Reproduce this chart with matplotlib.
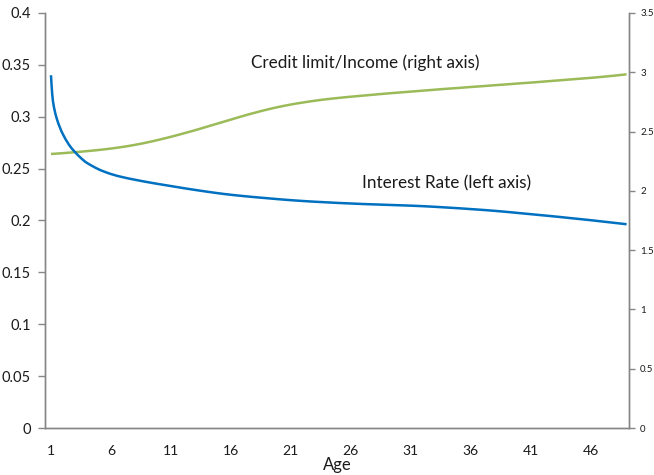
import matplotlib
matplotlib.use("Agg")
import matplotlib.pyplot as plt
from matplotlib.path import Path
from matplotlib.patches import PathPatch
from matplotlib.ticker import FixedLocator, FuncFormatter

# Interest rate by age (left axis); sampled more finely over the steep first years
rate_ages = [
    1, 1.1, 1.25, 1.5, 1.75, 2, 2.5, 3, 3.5, 4, 5, 6, 7, 8, 9, 10,
    11, 12, 13, 14, 15, 16, 17, 18, 19, 20, 21, 22, 23, 24, 25, 26, 27, 28, 29, 30,
    31, 32, 33, 34, 35, 36, 37, 38, 39, 40, 41, 42, 43, 44, 45, 46, 47, 48, 49,
]
interest_rate = [
    0.340, 0.322, 0.309, 0.2975, 0.2895, 0.2830, 0.2730, 0.2660, 0.2602, 0.2555,
    0.2492, 0.2448, 0.2417, 0.2393, 0.2371, 0.2351,
    0.2332, 0.2313, 0.2295, 0.2278, 0.2262, 0.2248, 0.2236, 0.2225, 0.2215, 0.2205,
    0.2196, 0.2188, 0.2181, 0.2175, 0.2169, 0.2164, 0.2159, 0.2155, 0.2151, 0.2147,
    0.2143, 0.2138, 0.2132, 0.2125, 0.2118, 0.2110, 0.2102, 0.2093, 0.2083, 0.2072,
    0.2061, 0.2050, 0.2039, 0.2027, 0.2015, 0.2003, 0.1990, 0.1977, 0.1964,
]

# Credit limit relative to income by age (right axis)
credit_ages = list(range(1, 50))
credit_limit_income = [
    2.311, 2.318, 2.326, 2.335, 2.345, 2.357, 2.371, 2.388, 2.408, 2.431,
    2.456, 2.483, 2.511, 2.541, 2.571, 2.601, 2.631, 2.659, 2.685, 2.708,
    2.728, 2.745, 2.760, 2.773, 2.784, 2.794, 2.803, 2.812, 2.821, 2.829,
    2.837, 2.845, 2.853, 2.861, 2.868, 2.876, 2.883, 2.891, 2.898, 2.906,
    2.913, 2.921, 2.929, 2.937, 2.945, 2.953, 2.962, 2.972, 2.983,
]

x_ticks = [1, 6, 11, 16, 21, 26, 31, 36, 41, 46]
left_ticks = [0, 0.05, 0.1, 0.15, 0.2, 0.25, 0.3, 0.35, 0.4]
right_ticks = [0, 0.5, 1, 1.5, 2, 2.5, 3, 3.5]

plt.rcParams["font.family"] = ["Lato", "DejaVu Sans"]

BLUE = "#0070C0"
GREEN = "#9BBB59"
AXIS_GREY = "#868686"
TEXT = "#1a1a1a"


def smooth_path(xs, ys):
    """Cubic Bezier path through the points (spreadsheet-style smoothed line)."""
    pts = list(zip(xs, ys))
    n = len(pts)
    verts = [pts[0]]
    codes = [Path.MOVETO]
    for i in range(n - 1):
        p0 = pts[i - 1] if i > 0 else pts[i]
        p1 = pts[i]
        p2 = pts[i + 1]
        p3 = pts[i + 2] if i + 2 < n else pts[i + 1]
        c1 = (p1[0] + (p2[0] - p0[0]) / 6, p1[1] + (p2[1] - p0[1]) / 6)
        c2 = (p2[0] - (p3[0] - p1[0]) / 6, p2[1] - (p3[1] - p1[1]) / 6)
        verts += [c1, c2, p2]
        codes += [Path.CURVE4] * 3
    return Path(verts, codes)


fig = plt.figure(figsize=(6.54, 4.75), dpi=100)
ax = fig.add_axes([45 / 654, 1 - 428 / 475, (629 - 45) / 654, (428 - 13) / 475])
ax2 = ax.twinx()

ax2.add_patch(PathPatch(smooth_path(credit_ages, credit_limit_income), fill=False,
                        edgecolor=GREEN, lw=1.8, capstyle="butt", zorder=2))
ax.add_patch(PathPatch(smooth_path(rate_ages, interest_rate), fill=False,
                       edgecolor=BLUE, lw=1.8, capstyle="butt", zorder=3))
ax.set_zorder(ax2.get_zorder() + 1)
ax.patch.set_visible(False)

ax.set_xlim(0.5, 49.2)
ax.set_ylim(0, 0.4)
ax2.set_ylim(0, 3.5)


def trim(v, _pos=None):
    return f"{v:.2f}".rstrip("0").rstrip(".")


ax.xaxis.set_major_locator(FixedLocator(x_ticks))
ax.yaxis.set_major_locator(FixedLocator(left_ticks))
ax.yaxis.set_major_formatter(FuncFormatter(trim))
ax2.yaxis.set_major_locator(FixedLocator(right_ticks))
ax2.yaxis.set_major_formatter(FuncFormatter(trim))

for a in (ax, ax2):
    a.spines["top"].set_visible(False)
    for s in ("left", "right", "bottom"):
        a.spines[s].set_color(AXIS_GREY)
        a.spines[s].set_linewidth(1.0)

ax.tick_params(axis="x", length=0, pad=12.5, labelsize=10, labelcolor=TEXT)
ax.tick_params(axis="y", length=5, width=1, color=AXIS_GREY, pad=5,
               labelsize=10.5, labelcolor=TEXT)
ax2.tick_params(axis="y", length=4, width=1, color=AXIS_GREY, pad=4,
                labelsize=7, labelcolor=TEXT)

ax.set_xlabel("Age", fontsize=12, color=TEXT, labelpad=0)

ax.text(17.7, 0.3518, "Credit limit/Income (right axis)", fontsize=12.3,
        color=TEXT, ha="left", va="center")
ax.text(26.9, 0.2361, "Interest Rate (left axis)", fontsize=12.3,
        color=TEXT, ha="left", va="center")

fig.savefig("out.png", dpi=100, facecolor="white")
